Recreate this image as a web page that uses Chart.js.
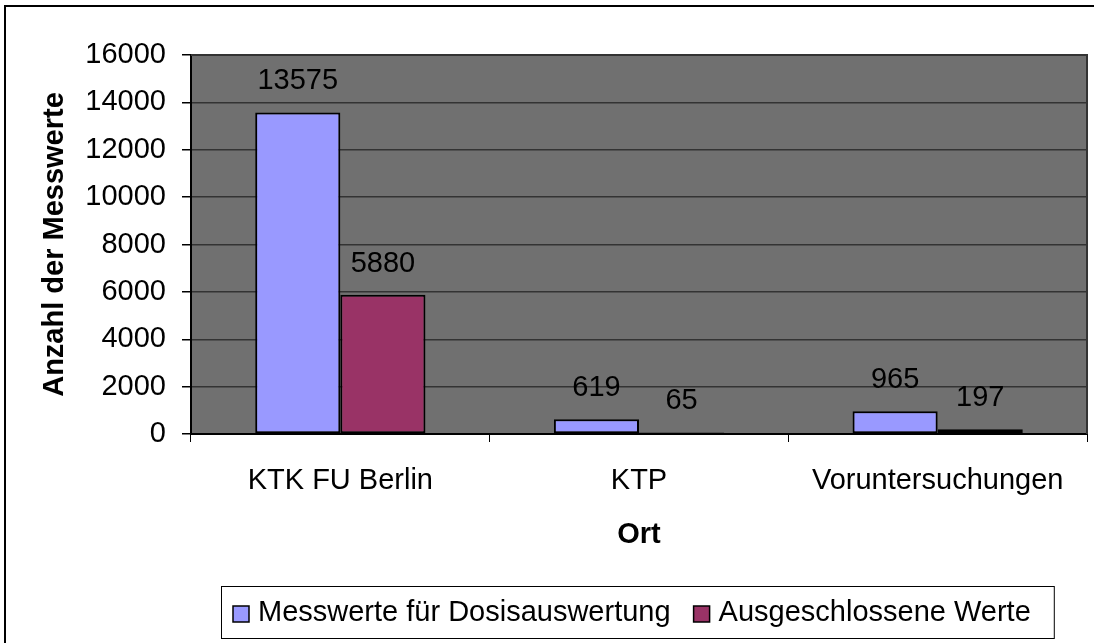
<!DOCTYPE html>
<html>
<head>
<meta charset="utf-8">
<script src="https://cdn.jsdelivr.net/npm/chart.js@4.4.1/dist/chart.umd.min.js"></script>
<style>
  html, body { margin: 0; padding: 0; background: #fff; }
  #wrap { width: 1094px; height: 643px; position: relative; }
</style>
</head>
<body>
<div id="wrap"><canvas id="chart" width="1094" height="643"></canvas></div>
<script>
// data
const orte = ['KTK FU Berlin', 'KTP', 'Voruntersuchungen'];
const messwerte = [13575, 619, 965];
const ausgeschlossen = [5880, 65, 197];
const serienNamen = ['Messwerte für Dosisauswertung', 'Ausgeschlossene Werte'];
const farben = ['#9999ff', '#993366'];

const FONT = 'Arial, "Liberation Sans", sans-serif';

// grauer Plotbereich + Rahmen
const plotBereich = {
  id: 'plotBereich',
  beforeDraw(chart) {
    const { ctx, chartArea: a } = chart;
    ctx.save();
    ctx.fillStyle = '#707070';
    ctx.fillRect(a.left, a.top, a.right - a.left, a.bottom - a.top);
    ctx.restore();
  },
  afterDraw(chart) {
    const { ctx, chartArea: a } = chart;
    ctx.save();
    ctx.strokeStyle = '#333';
    ctx.lineWidth = 2;
    ctx.beginPath();
    ctx.moveTo(a.left, a.top);
    ctx.lineTo(a.right, a.top);
    ctx.lineTo(a.right, a.bottom);
    ctx.stroke();
    // äußerer Rahmen
    ctx.strokeStyle = '#000';
    ctx.lineWidth = 2;
    ctx.strokeRect(5, 6, 1200, 800);
    ctx.restore();
  }
};

// Werte über den Balken
const werteLabels = {
  id: 'werteLabels',
  afterDatasetsDraw(chart) {
    const { ctx } = chart;
    ctx.save();
    ctx.font = '29px ' + FONT;
    ctx.fillStyle = '#000';
    ctx.textAlign = 'center';
    ctx.textBaseline = 'alphabetic';
    chart.data.datasets.forEach((ds, i) => {
      chart.getDatasetMeta(i).data.forEach((bar, j) => {
        ctx.fillText(String(ds.data[j]), bar.x, bar.y - 23);
      });
    });
    ctx.restore();
  }
};

// Legende mit Rahmen
const legendeBox = {
  id: 'legendeBox',
  afterDraw(chart) {
    const { ctx } = chart;
    const boxL = 221, boxT = 586, boxB = 638;
    ctx.save();
    ctx.font = '29px ' + FONT;
    let x = boxL + 12;
    const items = chart.data.datasets.map(ds => ({ text: ds.label, color: ds.backgroundColor }));
    const pos = [];
    items.forEach(it => {
      pos.push(x);
      x += 25 + ctx.measureText(it.text).width + 23;
    });
    const boxR = x;
    ctx.strokeStyle = '#000';
    ctx.lineWidth = 1;
    ctx.strokeRect(boxL + 0.5, boxT + 0.5, boxR - boxL, boxB - boxT);
    items.forEach((it, i) => {
      ctx.fillStyle = it.color;
      ctx.fillRect(pos[i], 606, 16, 16);
      ctx.lineWidth = 1.5;
      ctx.strokeRect(pos[i], 606, 16, 16);
      ctx.fillStyle = '#000';
      ctx.textBaseline = 'alphabetic';
      ctx.textAlign = 'left';
      ctx.fillText(it.text, pos[i] + 25, 621);
    });
    ctx.restore();
  }
};

new Chart(document.getElementById('chart'), {
  type: 'bar',
  data: {
    labels: orte,
    datasets: [
      {
        label: serienNamen[0],
        data: messwerte,
        backgroundColor: farben[0],
        borderColor: '#000',
        borderWidth: 2,
        borderSkipped: false
      },
      {
        label: serienNamen[1],
        data: ausgeschlossen,
        backgroundColor: farben[1],
        borderColor: '#000',
        borderWidth: 2,
        borderSkipped: false
      }
    ]
  },
  options: {
    responsive: false,
    animation: false,
    layout: { padding: { top: 55, right: 7, left: 0, bottom: 79 } },
    categoryPercentage: 0.57,
    barPercentage: 1.0,
    plugins: {
      legend: { display: false },
      tooltip: { enabled: false }
    },
    scales: {
      x: {
        afterFit(scale) { scale.height = 130; },
        grid: {
          offset: true,
          drawOnChartArea: false,
          tickLength: 8,
          color: '#000',
          tickColor: '#000'
        },
        border: { color: '#000', width: 2 },
        ticks: { color: '#000', padding: 22, font: { family: FONT, size: 29 } },
        title: {
          display: true,
          text: 'Ort',
          color: '#000',
          padding: { top: 0, bottom: 12 },
          font: { family: FONT, size: 29, weight: 'bold' }
        }
      },
      y: {
        min: 0,
        max: 16000,
        afterFit(scale) { scale.width = 191; },
        ticks: {
          stepSize: 2000,
          color: '#000',
          padding: 16,
          font: { family: FONT, size: 29 },
          callback: v => String(v)
        },
        grid: { color: '#333', lineWidth: 1.5, tickLength: 9, tickColor: '#000' },
        border: { color: '#000', width: 2 },
        title: {
          display: true,
          text: 'Anzahl der Messwerte',
          color: '#000',
          padding: { top: 38, bottom: 0 },
          font: { family: FONT, size: 29, weight: 'bold' }
        }
      }
    }
  },
  plugins: [plotBereich, werteLabels, legendeBox]
});
</script>
</body>
</html>
